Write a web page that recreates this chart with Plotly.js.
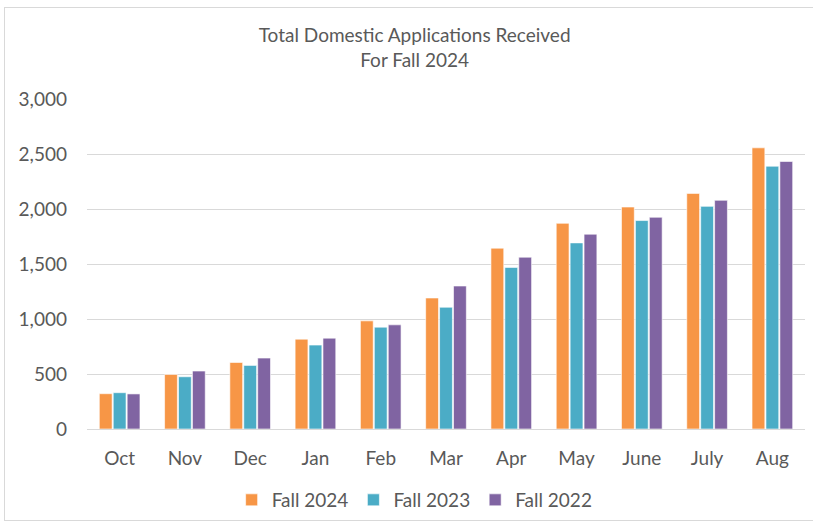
<!DOCTYPE html>
<html>
<head>
<meta charset="utf-8">
<script src="https://cdn.plot.ly/plotly-3.0.1.min.js"></script>
<style>
html,body{margin:0;padding:0;background:#fff;}
#wrap{position:relative;width:813px;height:523px;}
#chart{width:813px;height:523px;}
#frame{position:absolute;left:4px;top:7px;width:830px;height:512px;border:1px solid #d9d9d9;pointer-events:none;}
</style>
</head>
<body>
<div id="wrap"><div id="chart"></div><div id="frame"></div></div>
<script>
const months = ["Oct","Nov","Dec","Jan","Feb","Mar","Apr","May","June","July","Aug"];
const fall2024 = [321, 496, 605, 817, 983, 1191, 1644, 1870, 2018, 2142, 2556];
const fall2023 = [330, 475, 578, 763, 926, 1107, 1469, 1692, 1895, 2024, 2389];
const fall2022 = [319, 527, 645, 826, 947, 1300, 1562, 1771, 1925, 2079, 2432];
const seriesNames = ["Fall 2024","Fall 2023","Fall 2022"];
const colors = ["#F79646","#4BACC6","#8064A2"];
const series = [fall2024, fall2023, fall2022];

const font = "Lato, 'Open Sans', 'Liberation Sans', sans-serif";
const traces = series.map((vals, i) => ({
  type: "bar",
  name: seriesNames[i],
  x: months,
  y: vals,
  marker: {color: colors[i], line: {color: "rgba(255,255,255,0.6)", width: 1}},
  hoverinfo: "none"
}));

const layout = {
  width: 813, height: 523,
  margin: {l: 87, r: 8, t: 99, b: 93.5, pad: 0},
  paper_bgcolor: "#fff", plot_bgcolor: "#fff",
  font: {family: font, color: "#595959", size: 19},
  title: {text: "Total Domestic Applications Received<br>For Fall 2024", font: {family: font, size: 19, color: "#595959"},
          x: 0.51, xref: "container", xanchor: "center", y: 1 - 42/523, yref: "container", yanchor: "top"},
  barmode: "group", bargap: 0.36, bargroupgap: 0.08,
  showlegend: true,
  legend: {orientation: "h", x: 0.51, xref: "container", xanchor: "center", y: 1 - 481/523, yref: "container", yanchor: "top",
           font: {family: font, size: 19, color: "#595959"}, itemwidth: 30, traceorder: "normal"},
  xaxis: {showgrid: false, showline: false, ticks: "", tickfont: {size: 19, color: "#595959"}, ticklabelstandoff: 16, fixedrange: true},
  yaxis: {range: [0, 3000], dtick: 500, tickformat: ",d", showgrid: true, gridcolor: "#d9d9d9", gridwidth: 1,
          zeroline: true, zerolinecolor: "#d9d9d9", zerolinewidth: 1, showline: false, ticks: "",
          tickfont: {size: 19, color: "#595959"}, ticklabelstandoff: 19, fixedrange: true},
  hovermode: false
};
Plotly.newPlot("chart", traces, layout, {displayModeBar: false, staticPlot: true});
</script>
</body>
</html>
